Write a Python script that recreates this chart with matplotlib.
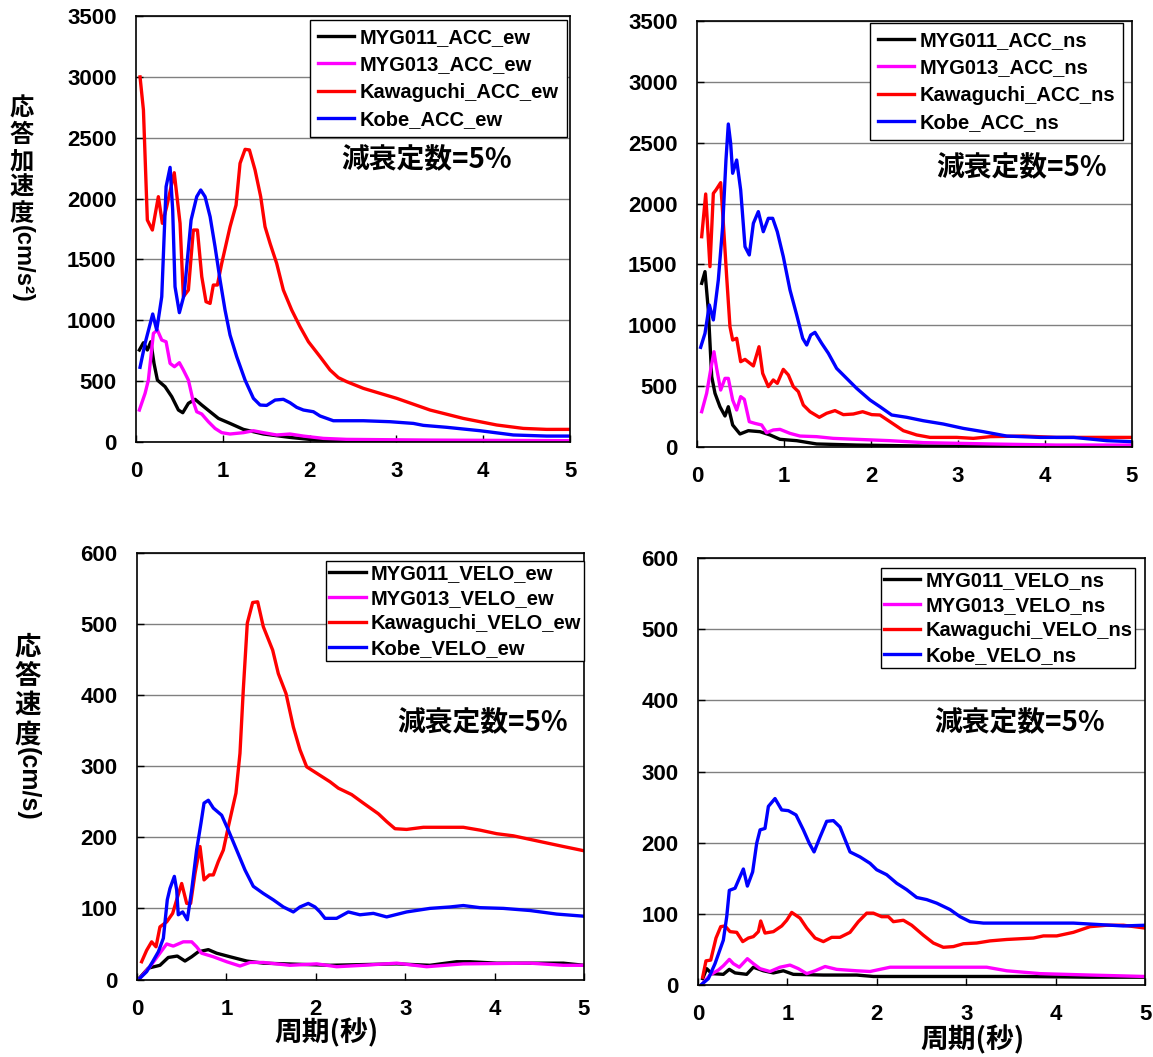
"""Response spectra (acceleration / velocity, ew / ns) for four stations."""

import matplotlib

matplotlib.use("Agg")
import matplotlib.pyplot as plt

NUM_FONT = "Liberation Sans"
CJK_FONT = ["Noto Sans CJK JP", "DejaVu Sans"]

# ---- acceleration, ew ----------------------------------------------------
acc_ew_myg011_t = [0.038, 0.085, 0.13, 0.17, 0.207, 0.246, 0.334, 0.411, 0.488, 0.538, 0.603, 0.68,
                   0.757, 0.853, 0.949, 1.083, 1.237, 1.467, 1.774, 2.081, 2.62, 3.5, 5.0]
acc_ew_myg011 = [756, 816, 756, 824, 646, 509, 455, 373, 263, 241, 318, 351,
                 304, 249, 194, 153, 104, 66, 38, 16, 8, 5, 5]

acc_ew_myg013_t = [0.038, 0.104, 0.142, 0.2, 0.246, 0.296, 0.346, 0.392, 0.442, 0.499, 0.545, 0.603,
                   0.66, 0.699, 0.757, 0.833, 0.91, 0.987, 1.083, 1.237, 1.352, 1.467, 1.62, 1.774,
                   1.928, 2.158, 2.427, 3.387, 5.0]
acc_ew_myg013 = [263, 400, 509, 893, 920, 838, 824, 646, 619, 652, 592, 509,
                 331, 249, 230, 167, 112, 77, 66, 77, 93, 77, 58, 66,
                 49, 30, 22, 16, 11]

acc_ew_kawa_t = [0.046, 0.085, 0.13, 0.188, 0.257, 0.303, 0.353, 0.44, 0.507, 0.545, 0.603, 0.66,
                 0.707, 0.757, 0.806, 0.853, 0.89, 0.937, 0.987, 1.083, 1.152, 1.198, 1.256, 1.306,
                 1.371, 1.436, 1.486, 1.544, 1.62, 1.697, 1.793, 1.889, 1.986, 2.12, 2.235, 2.331,
                 2.427, 2.619, 3.003, 3.387, 3.771, 4.155, 4.462, 4.73, 5.0]
acc_ew_kawa = [3000, 2728, 1824, 1742, 2016, 1797, 1934, 2213, 1797, 1194, 1249, 1742,
               1742, 1359, 1153, 1139, 1290, 1290, 1468, 1769, 1947, 2290, 2405, 2400,
               2235, 2016, 1769, 1632, 1468, 1249, 1085, 948, 824, 701, 592, 529,
               496, 441, 359, 263, 194, 140, 112, 104, 104]

acc_ew_kobe_t = [0.046, 0.104, 0.192, 0.238, 0.296, 0.346, 0.392, 0.422, 0.449, 0.499, 0.553, 0.634,
                 0.699, 0.745, 0.795, 0.853, 0.91, 0.968, 1.025, 1.083, 1.16, 1.256, 1.352, 1.429,
                 1.505, 1.602, 1.697, 1.774, 1.851, 1.928, 2.043, 2.12, 2.273, 2.619, 2.926, 3.195,
                 3.31, 3.579, 3.963, 4.347, 4.73, 5.0]
acc_ew_kobe = [614, 811, 1052, 920, 1194, 2098, 2257, 1906, 1276, 1063, 1208, 1824,
               2016, 2071, 2016, 1852, 1605, 1331, 1085, 879, 701, 509, 359, 304,
               301, 345, 351, 323, 285, 263, 249, 214, 175, 175, 167, 153,
               137, 121, 93, 58, 49, 49]

# ---- acceleration, ns ----------------------------------------------------
acc_ns_myg011_t = [0.054, 0.092, 0.13, 0.169, 0.207, 0.264, 0.322, 0.36, 0.41, 0.494, 0.59, 0.724,
                   0.839, 0.954, 1.146, 1.375, 1.835, 2.6, 5.0]
acc_ns_myg011 = [1345, 1441, 1126, 578, 441, 331, 255, 331, 181, 107, 134, 126,
                 99, 63, 52, 25, 16, 8, 3]

acc_ns_myg013_t = [0.054, 0.111, 0.157, 0.195, 0.226, 0.272, 0.322, 0.36, 0.41, 0.456, 0.502, 0.544,
                   0.601, 0.667, 0.743, 0.8, 0.877, 0.954, 1.069, 1.184, 1.375, 1.567, 1.835, 2.218,
                   2.6, 3.37, 4.13, 5.0]
acc_ns_myg013 = [290, 441, 633, 783, 646, 468, 564, 564, 386, 304, 414, 392,
                 208, 194, 181, 118, 140, 145, 112, 90, 85, 71, 63, 52,
                 36, 25, 16, 16]

acc_ns_kawa_t = [0.054, 0.1, 0.149, 0.188, 0.218, 0.272, 0.303, 0.341, 0.379, 0.41, 0.456, 0.502,
                 0.552, 0.648, 0.713, 0.755, 0.82, 0.877, 0.923, 0.992, 1.05, 1.107, 1.165, 1.222,
                 1.299, 1.406, 1.49, 1.586, 1.682, 1.797, 1.904, 2.008, 2.103, 2.218, 2.372, 2.525,
                 2.678, 2.985, 3.176, 3.37, 3.75, 4.13, 4.52, 5.0]
acc_ns_kawa = [1728, 2079, 1482, 2084, 2112, 2172, 1838, 1400, 989, 879, 893, 701,
               720, 666, 824, 605, 496, 551, 523, 638, 592, 496, 455, 345,
               290, 244, 277, 299, 266, 271, 290, 266, 263, 208, 134, 99,
               79, 79, 71, 85, 90, 79, 79, 79]

acc_ns_kobe_t = [0.042, 0.092, 0.142, 0.188, 0.245, 0.295, 0.333, 0.36, 0.387, 0.41, 0.456, 0.502,
                 0.552, 0.601, 0.648, 0.705, 0.762, 0.82, 0.87, 0.923, 0.992, 1.069, 1.146, 1.215,
                 1.261, 1.307, 1.356, 1.433, 1.51, 1.605, 1.72, 1.835, 1.989, 2.103, 2.238, 2.41,
                 2.6, 2.83, 3.061, 3.29, 3.56, 3.94, 4.33, 4.71, 5.0]
acc_ns_kobe = [819, 934, 1167, 1044, 1372, 1810, 2358, 2654, 2495, 2249, 2358, 2112,
               1646, 1578, 1838, 1934, 1769, 1879, 1879, 1769, 1564, 1290, 1085, 893,
               838, 920, 942, 852, 770, 646, 564, 482, 386, 331, 263, 244,
               216, 189, 153, 126, 90, 79, 79, 52, 44]

# ---- velocity, ew --------------------------------------------------------
vel_ew_myg011_t = [0.034, 0.127, 0.257, 0.35, 0.451, 0.537, 0.612, 0.686, 0.798, 0.891, 1.04, 1.227,
                   1.413, 2.159, 2.905, 3.277, 3.576, 3.725, 4.023, 4.769, 5.0]
vel_ew_myg011 = [3, 16, 20, 31, 33, 26, 32, 39, 42, 37, 32, 26,
                 23, 20, 22, 20, 25, 25, 23, 23, 20]

vel_ew_myg013_t = [0.034, 0.145, 0.239, 0.332, 0.406, 0.518, 0.612, 0.667, 0.723, 0.854, 1.003, 1.152,
                   1.264, 1.413, 1.711, 2.01, 2.233, 2.532, 2.905, 3.24, 3.65, 4.396, 4.769, 5.0]
vel_ew_myg013 = [2, 18, 34, 50, 47, 53, 53, 46, 37, 32, 25, 19,
                 24, 24, 20, 22, 18, 20, 23, 18, 22, 23, 20, 20]

vel_ew_kawa_t = [0.052, 0.108, 0.164, 0.213, 0.257, 0.332, 0.399, 0.444, 0.5, 0.556, 0.6, 0.649,
                 0.705, 0.75, 0.809, 0.854, 0.91, 0.966, 1.022, 1.107, 1.152, 1.189, 1.234, 1.294,
                 1.35, 1.413, 1.518, 1.581, 1.667, 1.749, 1.823, 1.898, 2.01, 2.159, 2.252, 2.401,
                 2.532, 2.7, 2.793, 2.886, 3.016, 3.203, 3.65, 3.837, 4.023, 4.21, 4.396, 4.582,
                 4.769, 5.0]
vel_ew_kawa = [25, 41, 53, 46, 74, 81, 93, 112, 135, 107, 107, 149,
               187, 140, 147, 147, 166, 182, 215, 262, 318, 407, 501, 530,
               531, 496, 463, 430, 402, 355, 323, 299, 290, 278, 269, 260,
               248, 233, 222, 212, 211, 214, 214, 210, 205, 202, 197, 192,
               187, 181]

vel_ew_kobe_t = [0.034, 0.108, 0.175, 0.239, 0.295, 0.339, 0.369, 0.418, 0.444, 0.462, 0.511, 0.563,
                 0.612, 0.667, 0.716, 0.75, 0.798, 0.854, 0.947, 1.022, 1.115, 1.208, 1.301, 1.413,
                 1.525, 1.637, 1.749, 1.823, 1.916, 1.991, 2.047, 2.103, 2.233, 2.364, 2.494, 2.644,
                 2.793, 3.016, 3.277, 3.501, 3.65, 3.837, 4.098, 4.396, 4.694, 5.0]
vel_ew_kobe = [2, 11, 25, 39, 58, 112, 128, 145, 126, 91, 95, 84,
               126, 182, 220, 248, 252, 241, 231, 210, 182, 154, 131, 121,
               112, 102, 95, 102, 107, 102, 95, 86, 86, 95, 91, 93,
               88, 95, 100, 102, 104, 101, 100, 97, 92, 89]

# ---- velocity, ns --------------------------------------------------------
vel_ns_myg011_t = [0.052, 0.097, 0.153, 0.283, 0.35, 0.414, 0.544, 0.619, 0.731, 0.843, 0.955, 1.066,
                   1.402, 1.775, 1.961, 3.639, 4.385, 5.0]
vel_ns_myg011 = [9, 23, 16, 15, 22, 17, 15, 25, 20, 17, 20, 15,
                 14, 14, 12, 12, 11, 11]

vel_ns_myg013_t = [0.052, 0.134, 0.227, 0.283, 0.35, 0.395, 0.462, 0.552, 0.619, 0.694, 0.805, 0.917,
                   1.029, 1.122, 1.216, 1.309, 1.421, 1.551, 1.775, 1.924, 2.148, 2.52, 3.229, 3.453,
                   3.826, 4.385, 5.0]
vel_ns_myg013 = [2, 14, 21, 27, 36, 30, 25, 37, 30, 23, 19, 25,
                 28, 23, 16, 20, 26, 22, 20, 19, 25, 25, 25, 20,
                 16, 14, 12]

vel_ns_kawa_t = [0.052, 0.089, 0.142, 0.201, 0.254, 0.302, 0.358, 0.433, 0.5, 0.563, 0.619, 0.675,
                 0.701, 0.749, 0.843, 0.936, 0.992, 1.048, 1.141, 1.216, 1.309, 1.402, 1.495, 1.588,
                 1.7, 1.793, 1.887, 1.961, 2.054, 2.129, 2.185, 2.297, 2.39, 2.52, 2.632, 2.744,
                 2.856, 2.968, 3.117, 3.266, 3.453, 3.751, 3.863, 4.012, 4.198, 4.385, 4.571, 4.758,
                 5.0]
vel_ns_kawa = [11, 34, 35, 66, 82, 83, 75, 74, 61, 66, 68, 75,
               90, 73, 75, 83, 91, 102, 94, 80, 66, 61, 67, 67,
               74, 89, 101, 101, 96, 96, 89, 91, 84, 70, 59, 53,
               54, 58, 59, 62, 64, 66, 69, 69, 74, 82, 84, 84,
               80]

vel_ns_kobe_t = [0.041, 0.116, 0.19, 0.283, 0.321, 0.35, 0.414, 0.462, 0.507, 0.552, 0.611, 0.656,
                 0.694, 0.749, 0.787, 0.861, 0.936, 1.01, 1.096, 1.178, 1.245, 1.298, 1.365, 1.439,
                 1.514, 1.588, 1.7, 1.812, 1.924, 1.998, 2.11, 2.222, 2.334, 2.446, 2.558, 2.67,
                 2.819, 2.931, 3.043, 3.192, 3.639, 4.198, 4.758, 5.0]
vel_ns_kobe = [1, 9, 30, 63, 96, 133, 136, 150, 163, 139, 159, 199,
               218, 220, 251, 262, 246, 245, 239, 218, 199, 187, 208, 230,
               231, 222, 187, 180, 171, 162, 155, 143, 134, 123, 120, 115,
               106, 96, 89, 87, 87, 87, 83, 84]

stations = ["MYG011", "MYG013", "Kawaguchi", "Kobe"]
colors = ["#000000", "#ff00ff", "#ff0000", "#0000ff"]
x_ticks = [0, 1, 2, 3, 4, 5]
damping_note = "減衰定数=5%"

panels = [
    # rect (fig fraction), legend anchor / spacing, note position in axes coords
    dict(rect=[0.118, 0.5818, 0.3764, 0.4030], kind="ACC", comp="ew", ymax=3500, ystep=500,
         series=[(acc_ew_myg011_t, acc_ew_myg011), (acc_ew_myg013_t, acc_ew_myg013),
                 (acc_ew_kawa_t, acc_ew_kawa), (acc_ew_kobe_t, acc_ew_kobe)],
         anchor=(0.992, 0.991), lspace=0.42, bpad=0.4, note=(0.670, 0.662)),
    dict(rect=[0.6045, 0.5771, 0.3773, 0.4030], kind="ACC", comp="ns", ymax=3500, ystep=500,
         series=[(acc_ns_myg011_t, acc_ns_myg011), (acc_ns_myg013_t, acc_ns_myg013),
                 (acc_ns_kawa_t, acc_ns_kawa), (acc_ns_kobe_t, acc_ns_kobe)],
         anchor=(0.979, 0.996), lspace=0.42, bpad=0.4, note=(0.747, 0.655)),
    dict(rect=[0.1188, 0.0733, 0.3877, 0.4038], kind="VELO", comp="ew", ymax=600, ystep=100,
         series=[(vel_ew_myg011_t, vel_ew_myg011), (vel_ew_myg013_t, vel_ew_myg013),
                 (vel_ew_kawa_t, vel_ew_kawa), (vel_ew_kobe_t, vel_ew_kobe)],
         anchor=(1.0, 0.981), lspace=0.3, bpad=0.15, note=(0.772, 0.601)),
    dict(rect=[0.6054, 0.0681, 0.3877, 0.4040], kind="VELO", comp="ns", ymax=600, ystep=100,
         series=[(vel_ns_myg011_t, vel_ns_myg011), (vel_ns_myg013_t, vel_ns_myg013),
                 (vel_ns_kawa_t, vel_ns_kawa), (vel_ns_kobe_t, vel_ns_kobe)],
         anchor=(0.978, 0.977), lspace=0.3, bpad=0.15, note=(0.720, 0.614)),
]

fig = plt.figure(figsize=(11.53, 10.57), dpi=100)

for p in panels:
    ax = fig.add_axes(p["rect"])
    for name, color, (t, v) in zip(stations, colors, p["series"]):
        ax.plot(t, v, color=color, lw=2.4, label=f"{name}_{p['kind']}_{p['comp']}")
    ax.set_xlim(0, 5)
    ax.set_ylim(0, p["ymax"])
    ax.set_xticks(x_ticks)
    ax.set_yticks(range(0, p["ymax"] + 1, p["ystep"]))
    ax.yaxis.grid(True, color="#808080", lw=1.0)
    ax.set_axisbelow(True)
    ax.tick_params(direction="in", length=5, width=1, pad=14, labelsize=16)
    for lab in ax.get_xticklabels() + ax.get_yticklabels():
        lab.set_fontfamily(NUM_FONT)
        lab.set_fontweight("bold")
    for s in ax.spines.values():
        s.set_color("black")
        s.set_linewidth(1.2)
    leg = ax.legend(loc="upper right", bbox_to_anchor=p["anchor"], borderaxespad=0,
                    fancybox=False, frameon=True, framealpha=1, edgecolor="black",
                    handlelength=1.8, handletextpad=0.25, labelspacing=p["lspace"],
                    borderpad=p["bpad"], prop=dict(family=NUM_FONT, weight="bold", size=14.5))
    leg.get_frame().set_linewidth(1.0)
    ax.text(*p["note"], damping_note, transform=ax.transAxes, ha="center", va="center",
            fontsize=20, fontweight="bold", family=CJK_FONT)

# vertical axis titles: kanji upright, unit rotated (Excel style)
fig.text(22 / 1153, 1 - 97 / 1057, "応\n答\n加\n速\n度", ha="center", va="top",
         fontsize=17.5, fontweight="bold", family=CJK_FONT, linespacing=1.12)
fig.text(22 / 1153, 1 - 225 / 1057, "(cm/s²)", ha="center", va="top", rotation=-90,
         fontsize=17, fontweight="bold", family=NUM_FONT)
fig.text(28 / 1153, 1 - 634 / 1057, "応\n答\n速\n度", ha="center", va="top",
         fontsize=19, fontweight="bold", family=CJK_FONT, linespacing=1.1)
fig.text(28 / 1153, 1 - 747 / 1057, "(cm/s)", ha="center", va="top", rotation=-90,
         fontsize=18, fontweight="bold", family=NUM_FONT)

fig.text(327 / 1153, 1 - 1033 / 1057, "周期(秒)", ha="center", va="center",
         fontsize=20, fontweight="bold", family=CJK_FONT)
fig.text(973 / 1153, 1 - 1040 / 1057, "周期(秒)", ha="center", va="center",
         fontsize=20, fontweight="bold", family=CJK_FONT)

fig.savefig("out.png", dpi=100, facecolor="white")
